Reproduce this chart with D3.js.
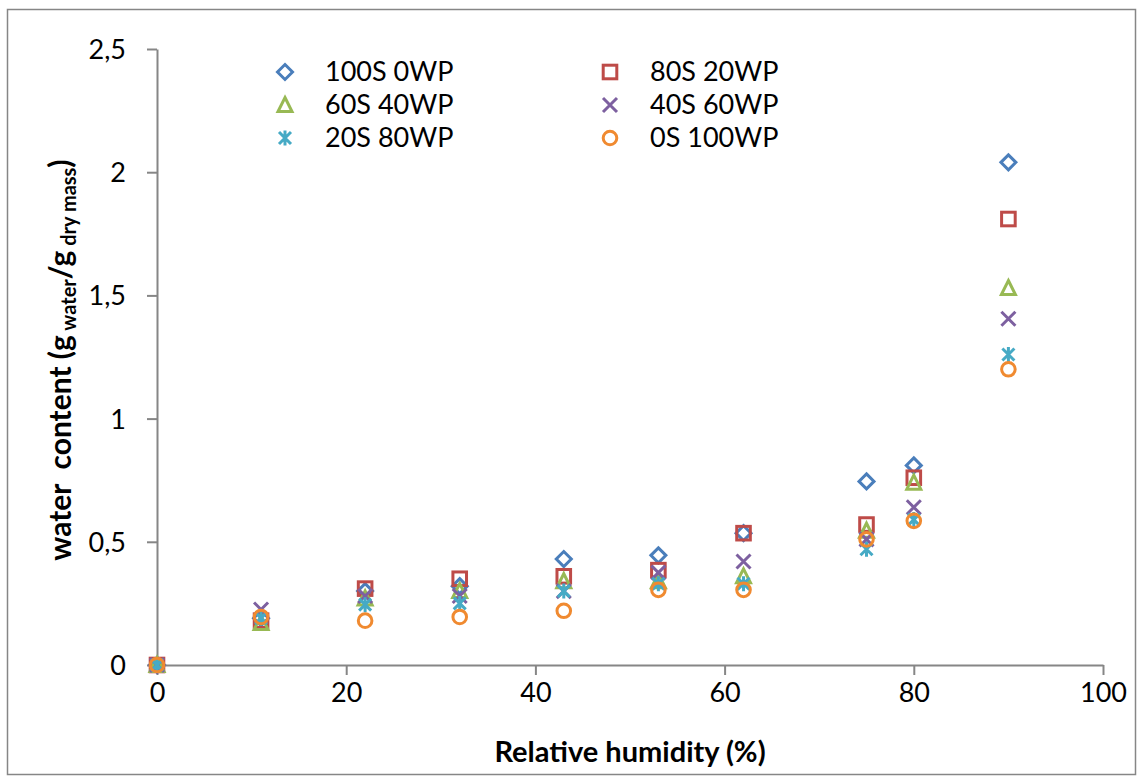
<!DOCTYPE html>
<html><head><meta charset="utf-8">
<script src="https://cdn.jsdelivr.net/npm/d3@7/dist/d3.min.js"></script>
<style>body{margin:0;background:#fff}svg{display:block}text{font-family:Lato,"Open Sans",sans-serif}</style>
</head><body><svg id="c" width="1143" height="783"></svg>
<script>
const humidity = [0, 11, 22, 32, 43, 53, 62, 75, 80, 90];
const s100S0WP = [0, 0.19, 0.30, 0.32, 0.43, 0.445, 0.535, 0.745, 0.81, 2.04];
const s80S20WP = [0, 0.18, 0.31, 0.35, 0.36, 0.385, 0.535, 0.57, 0.76, 1.81];
const s60S40WP = [0, 0.17, 0.27, 0.30, 0.34, 0.34, 0.36, 0.545, 0.74, 1.53];
const s40S60WP = [0, 0.225, 0.28, 0.28, 0.30, 0.375, 0.42, 0.51, 0.64, 1.405];
const s20S80WP = [0, 0.19, 0.245, 0.25, 0.30, 0.33, 0.33, 0.47, 0.59, 1.26];
const s0S100WP = [0, 0.195, 0.18, 0.195, 0.22, 0.305, 0.305, 0.51, 0.585, 1.20];
const seriesNames = ["100S 0WP", "80S 20WP", "60S 40WP", "40S 60WP", "20S 80WP", "0S 100WP"];
const seriesValues = [s100S0WP, s80S20WP, s60S40WP, s40S60WP, s20S80WP, s0S100WP];
const xTicks = [0, 20, 40, 60, 80, 100];
const yTicks = [0, 0.5, 1, 1.5, 2, 2.5];

const colors = ["#4A7EBB", "#BE4B48", "#98B954", "#7D60A0", "#46AAC5", "#F08A30"];
const shapes = ["diamond", "square", "triangle", "x", "star", "circle"];

const svg = d3.select("#c");
svg.append("rect").attr("x", 7.5).attr("y", 9.5).attr("width", 1128).attr("height", 765)
  .attr("fill", "#fff").attr("stroke", "#868686").attr("stroke-width", 1.5);

const x = d3.scaleLinear().domain([0, 100]).range([157, 1103]);
const y = d3.scaleLinear().domain([0, 2.5]).range([665, 49]);
const axisColor = "#868686";

const fmt = d => String(d).replace(".", ",");
const gx = svg.append("g").attr("transform", "translate(0,665)")
  .call(d3.axisBottom(x).tickValues(xTicks).tickSize(10).tickSizeOuter(0).tickFormat(d3.format("d")));
const gy = svg.append("g").attr("transform", "translate(157,0)")
  .call(d3.axisLeft(y).tickValues(yTicks).tickSize(10).tickSizeOuter(0).tickFormat(fmt));
[gx, gy].forEach(g => {
  g.select(".domain").attr("stroke", axisColor).attr("stroke-width", 2);
  g.selectAll(".tick line").attr("stroke", axisColor).attr("stroke-width", 2);
  g.selectAll(".tick text").attr("fill", "#000").style("font-size", "27px").style("font-family", "Lato, 'Open Sans', sans-serif");
});
gx.selectAll(".tick text").attr("y", 28).attr("dy", "0.35em");
gy.selectAll(".tick text").attr("x", -31).attr("dy", "0.35em");

svg.append("text").attr("x", 630).attr("y", 762).attr("text-anchor", "middle")
  .style("font-size", "29px").style("font-weight", "bold").text("Relative humidity (%)");

const yt = svg.append("text").attr("transform", "translate(71,360) rotate(-90)").attr("text-anchor", "middle")
  .style("font-size", "30px").style("font-weight", "bold").style("white-space", "pre");
yt.append("tspan").text("water  content (g");
yt.append("tspan").style("font-size", "20px").attr("dy", 5).text(" water");
yt.append("tspan").attr("dy", -5).text("/g");
yt.append("tspan").style("font-size", "20px").attr("dy", 5).text(" dry mass");
yt.append("tspan").attr("dy", -5).text(")");

function marker(sel, shape, color) {
  const sw = 3;
  if (shape === "diamond") sel.append("path").attr("d", "M0,-7.5L7.5,0L0,7.5L-7.5,0Z").attr("fill", "none").attr("stroke", color).attr("stroke-width", sw);
  if (shape === "square") sel.append("rect").attr("x", -6.8).attr("y", -6.8).attr("width", 13.6).attr("height", 13.6).attr("fill", "none").attr("stroke", color).attr("stroke-width", sw);
  if (shape === "triangle") sel.append("path").attr("d", "M0,-7.5L7,6.5L-7,6.5Z").attr("fill", "none").attr("stroke", color).attr("stroke-width", sw);
  if (shape === "x") sel.append("path").attr("d", "M-7,-7L7,7M-7,7L7,-7").attr("stroke", color).attr("stroke-width", sw);
  if (shape === "star") sel.append("path").attr("d", "M-6,-6L6,6M-6,6L6,-6M0,-7.5L0,7.5").attr("stroke", color).attr("stroke-width", sw);
  if (shape === "circle") sel.append("circle").attr("r", 6.8).attr("fill", "none").attr("stroke", color).attr("stroke-width", sw);
}

seriesValues.forEach((vals, i) => {
  const g = svg.append("g");
  vals.forEach((v, j) => {
    const m = g.append("g").attr("transform", `translate(${x(humidity[j])},${y(v)})`);
    marker(m, shapes[i], colors[i]);
  });
});

// legend
const legX = [285, 610], legTX = [325, 650], legY = [72, 105, 138];
seriesNames.forEach((name, i) => {
  const col = i % 2, row = Math.floor(i / 2);
  const m = svg.append("g").attr("transform", `translate(${legX[col]},${legY[row]})`);
  marker(m, shapes[i], colors[i]);
  svg.append("text").attr("x", legTX[col]).attr("y", legY[row]).attr("dy", "0.35em")
    .style("font-size", "27px").text(name);
});
</script></body></html>
